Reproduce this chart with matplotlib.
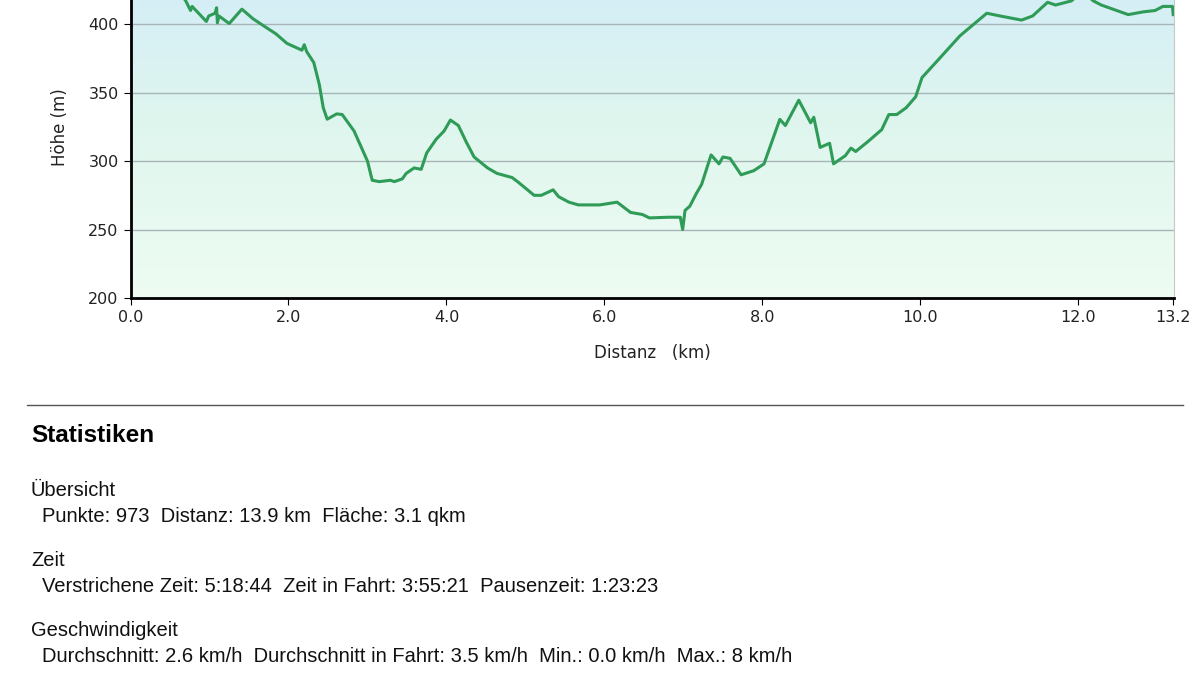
import numpy as np
import matplotlib
matplotlib.use("Agg")
import matplotlib.pyplot as plt
from matplotlib.colors import LinearSegmentedColormap

dist_km = [0.0, 0.3, 0.6, 0.70, 0.76, 0.78, 0.96, 0.99, 1.07, 1.09, 1.10, 1.12, 1.25, 1.41, 1.55, 1.72, 1.84, 1.98,
           2.17, 2.20, 2.23, 2.32, 2.39, 2.44, 2.49, 2.61, 2.68, 2.83, 3.00, 3.06, 3.15, 3.29, 3.34, 3.44, 3.49,
           3.59, 3.68, 3.75, 3.87, 3.97, 4.05, 4.15, 4.25, 4.35, 4.52, 4.64, 4.83, 4.90, 5.11, 5.20, 5.35, 5.42,
           5.55, 5.67, 5.94, 6.16, 6.33, 6.48, 6.57, 6.81, 6.96, 6.99, 7.02, 7.08, 7.16, 7.23, 7.35, 7.45, 7.50,
           7.59, 7.73, 7.89, 8.02, 8.22, 8.29, 8.46, 8.61, 8.65, 8.73, 8.85, 8.90, 9.05, 9.12, 9.18, 9.34, 9.51,
           9.60, 9.70, 9.82, 9.94, 10.02, 10.21, 10.50, 10.84, 11.01, 11.28, 11.42, 11.61, 11.71, 11.91, 12.05,
           12.19, 12.29, 12.63, 12.82, 12.97, 13.07, 13.19, 13.20]
hoehe_m = [435, 440, 425, 417, 410, 413, 402, 406, 408, 412, 401, 406, 400.5, 411, 404, 397.5, 393, 386,
           381, 385, 380, 372, 356, 339, 330.6, 334.5, 334, 322, 300, 286, 285, 286, 285, 287, 291,
           295, 294, 306, 316, 322, 330, 326, 314, 303, 295, 291, 288, 285, 275, 275, 279, 274,
           270, 268, 268, 270, 262.5, 261, 258.5, 259, 259, 250, 264, 267, 276, 283, 304.5, 298, 303,
           302, 290, 293, 298, 330.5, 326, 344.5, 328, 332, 310, 313, 298, 304, 309.5, 307, 314.5, 323,
           334, 334, 339, 347, 361, 373, 391.5, 408, 406, 403, 406, 416, 414, 417, 424,
           417, 414, 407, 409, 410, 413, 413, 407]

x_ticks = [0.0, 2.0, 4.0, 6.0, 8.0, 10.0, 12.0, 13.2]
y_ticks = [200, 250, 300, 350, 400]

stats_title = "Statistiken"
stats_lines = [
    ("Übersicht", "Punkte: 973  Distanz: 13.9 km  Fläche: 3.1 qkm"),
    ("Zeit", "Verstrichene Zeit: 5:18:44  Zeit in Fahrt: 3:55:21  Pausenzeit: 1:23:23"),
    ("Geschwindigkeit", "Durchschnitt: 2.6 km/h  Durchschnitt in Fahrt: 3.5 km/h  Min.: 0.0 km/h  Max.: 8 km/h"),
]

W, H = 1200, 684
fig = plt.figure(figsize=(12, 6.84), dpi=100)
fig.patch.set_facecolor("white")

ymin, ymax = 200, 450
px_per_m = 1.369
top_px = 298 - (ymax - ymin) * px_per_m
ax = fig.add_axes([130.5 / W, 1 - 298 / H, (1174 - 130.5) / W, (298 - top_px) / H])
ax.set_xlim(0, 13.21)
ax.set_ylim(ymin, ymax)

cmap = LinearSegmentedColormap.from_list("bg", ["#eefcf2", "#dff6ee", "#d2ecf8"])
grad = np.linspace(0, 1, 256).reshape(-1, 1)
ax.imshow(grad, aspect="auto", cmap=cmap, origin="lower",
          extent=[0, 13.21, ymin, ymax], zorder=0)

for yv in [250, 300, 350, 400]:
    ax.axhline(yv, color="#a8b4b8", lw=1.0, zorder=1)

ax.plot(dist_km, hoehe_m, color="#2e9b57", lw=2.2, zorder=3, solid_joinstyle="round")

ax.set_xticks(x_ticks)
ax.set_xticklabels([f"{v:.1f}" for v in x_ticks])
ax.set_yticks(y_ticks)
ax.tick_params(labelsize=11.5, length=5, color="black", labelcolor="#222222")
ax.spines["left"].set_color("black")
ax.spines["left"].set_linewidth(2)
ax.spines["bottom"].set_color("black")
ax.spines["bottom"].set_linewidth(2)
ax.spines["right"].set_color("#c8c8c8")
ax.spines["top"].set_visible(False)
ax.set_xlabel("Distanz   (km)", fontsize=12, color="#222222", labelpad=14)
ax.set_ylabel("Höhe (m)", fontsize=12, color="#222222", labelpad=14)

fig.add_artist(plt.Line2D([27 / W, 1183 / W], [1 - 405 / H, 1 - 405 / H], color="#555555", lw=1))
fam = ["Liberation Sans", "DejaVu Sans"]
fig.text(31 / W, 1 - 435 / H, stats_title, fontsize=17.5, fontweight="bold", family=fam, va="center")
y0 = 491
for head, body in stats_lines:
    fig.text(31 / W, 1 - y0 / H, head, fontsize=14.5, family=fam, va="center", color="#111111")
    fig.text(42 / W, 1 - (y0 + 25) / H, body, fontsize=14.5, family=fam, va="center", color="#111111")
    y0 += 70

fig.savefig("out.png", dpi=100)
